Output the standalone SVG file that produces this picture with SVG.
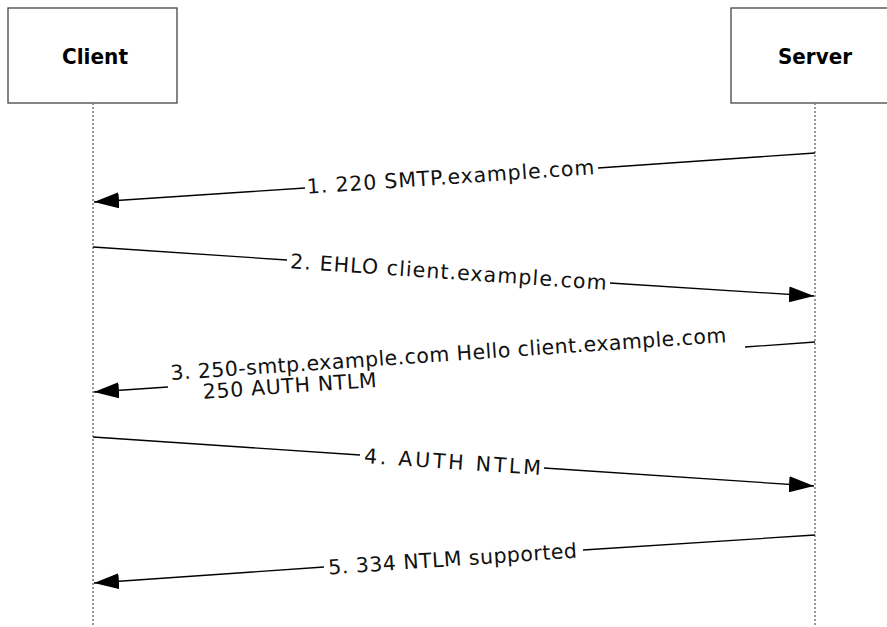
<svg xmlns="http://www.w3.org/2000/svg" width="887" height="627" viewBox="0 0 887 627">
<defs>
<style>
.box{fill:#fff;stroke:#444;stroke-width:1.3}
.life{stroke:#777;stroke-width:1.5;stroke-dasharray:2 2;fill:none}
.msg{stroke:#000;stroke-width:1.3;fill:none}
.lbl{font-family:"DejaVu Sans",Verdana,sans-serif;font-size:20.5px;fill:#111}
.hdr{font-family:"DejaVu Sans",Verdana,sans-serif;font-size:22px;font-weight:bold;fill:#000}
</style>
<marker id="ah" markerWidth="26" markerHeight="16" refX="25" refY="8" orient="auto" markerUnits="userSpaceOnUse">
<path d="M0,0 L25,8 L0,16 Z" fill="#000"/>
</marker>
</defs>
<rect width="887" height="627" fill="#fff"/>
<g id="client">
<rect class="box" x="8" y="8" width="169" height="95"/>
<text class="hdr" x="62" y="64" textLength="66" lengthAdjust="spacingAndGlyphs">Client</text>
<line class="life" x1="93" y1="103" x2="93" y2="627"/>
</g>
<g id="server">
<rect class="box" x="731" y="8" width="170" height="95"/>
<text class="hdr" x="778" y="64" textLength="74" lengthAdjust="spacingAndGlyphs">Server</text>
<line class="life" x1="815" y1="103" x2="815" y2="627"/>
</g>
<g id="connectors">
<path class="msg" d="M815,153 L598,168 M305,188 L94,202" marker-end="url(#ah)"/>
<path class="msg" d="M93,247 L287,260 M610,283 L814,296" marker-end="url(#ah)"/>
<path class="msg" d="M815,342 L745,347 M168,387 L94,392" marker-end="url(#ah)"/>
<path class="msg" d="M93,437 L360,455 M544,468 L814,486" marker-end="url(#ah)"/>
<path class="msg" d="M815,535 L583,550 M324,567 L94,583" marker-end="url(#ah)"/>
</g>
<g id="labels">
<text class="lbl" x="451" y="184" text-anchor="middle" textLength="288" transform="rotate(-3.9 451 184)">1. 220 SMTP.example.com</text>
<text class="lbl" x="448" y="279" text-anchor="middle" textLength="317" transform="rotate(3.9 448 279)">2. EHLO client.example.com</text>
<g transform="rotate(-3.9 171 380)">
<text class="lbl" x="171" y="380" textLength="557">3. 250-smtp.example.com Hello client.example.com</text>
<text class="lbl" x="202" y="401" textLength="174">250 AUTH NTLM</text>
</g>
<text class="lbl" x="452" y="469" text-anchor="middle" textLength="177" transform="rotate(3.9 452 469)">4. AUTH NTLM</text>
<text class="lbl" x="453" y="566" text-anchor="middle" textLength="249" transform="rotate(-3.9 453 566)">5. 334 NTLM supported</text>
</g>
</svg>
